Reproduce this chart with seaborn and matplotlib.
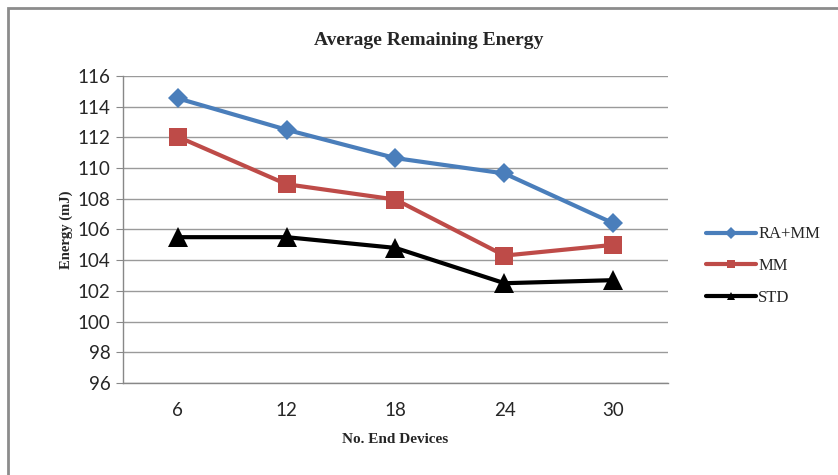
import pandas as pd
import matplotlib
matplotlib.use("Agg")
import matplotlib.pyplot as plt
import seaborn as sns
from matplotlib.patches import Rectangle
from matplotlib.lines import Line2D

devices = ["6", "12", "18", "24", "30"]
raMm = [114.55, 112.5, 110.65, 109.65, 106.4]
mm = [112.05, 108.95, 107.95, 104.3, 105.0]
std = [105.5, 105.5, 104.8, 102.5, 102.7]
seriesNames = ["RA+MM", "MM", "STD"]
yTicks = list(range(96, 117, 2))

rows = []
for name, vals in zip(seriesNames, [raMm, mm, std]):
    for i, v in enumerate(vals):
        rows.append({"pos": i, "energy": v, "series": name})
df = pd.DataFrame(rows)

sns.set_style("white")
plt.rcParams["font.family"] = ["Liberation Serif", "DejaVu Serif"]

fig = plt.figure(figsize=(8.38, 4.75), dpi=100)
ax = fig.add_axes([0.1468, 0.1937, 0.6503, 0.6463])

palette = {"RA+MM": "#4A7EBB", "MM": "#BE4B48", "STD": "#000000"}
markers = {"RA+MM": "D", "MM": "s", "STD": "^"}
sizes = {"RA+MM": 10, "MM": 13, "STD": 14}

for name in seriesNames:
    sub = df[df["series"] == name]
    sns.lineplot(data=sub, x="pos", y="energy", ax=ax, color=palette[name],
                 marker=markers[name], markersize=sizes[name], linewidth=3,
                 markeredgewidth=0, legend=False)

ax.set_xlim(-0.5, 4.5)
ax.set_ylim(96, 116)
ax.set_yticks(yTicks)
ax.set_yticklabels([str(t) for t in yTicks], fontfamily="Lato", fontsize=13.5)
ax.set_xticks([-0.5, 0.5, 1.5, 2.5, 3.5, 4.5])
ax.set_xticklabels([])
ax.set_xticks(range(len(devices)), minor=True)
ax.set_xticklabels(devices, minor=True, fontfamily="Lato", fontsize=13.5)
ax.tick_params(axis="x", which="major", length=6, color="#888888", direction="out")
ax.tick_params(axis="x", which="minor", length=0, pad=14)
ax.tick_params(axis="y", length=5, color="#888888", direction="out", left=True, pad=4)
ax.grid(axis="y", color="#9A9A9A", linewidth=1)
ax.grid(axis="x", visible=False)
for side in ["top", "right"]:
    ax.spines[side].set_visible(False)
for side in ["left", "bottom"]:
    ax.spines[side].set_color("#888888")
    ax.spines[side].set_linewidth(1)
ax.set_axisbelow(True)

ax.set_xlabel("No. End Devices", fontsize=11, fontweight="bold", labelpad=10)
ax.set_ylabel("Energy (mJ)", fontsize=10.5, fontweight="bold", labelpad=3)
fig.text(0.511, 0.914, "Average Remaining Energy", ha="center", va="center",
         fontsize=14, fontweight="bold")

handles = [Line2D([], [], color=palette[n], marker=markers[n], markersize=6,
                  markeredgewidth=0, linewidth=3) for n in seriesNames]
fig.legend(handles, seriesNames, loc="upper left", bbox_to_anchor=(0.825, 0.555),
           frameon=False, fontsize=12, handlelength=3.0, handletextpad=0.1,
           labelspacing=0.95)

fig.patches.append(Rectangle((8 / 838, -0.1), 1.5, 1.1 - 8 / 475,
                             transform=fig.transFigure, fill=False,
                             edgecolor="#8C8C8C", linewidth=2))

fig.savefig("out.png", dpi=100)
